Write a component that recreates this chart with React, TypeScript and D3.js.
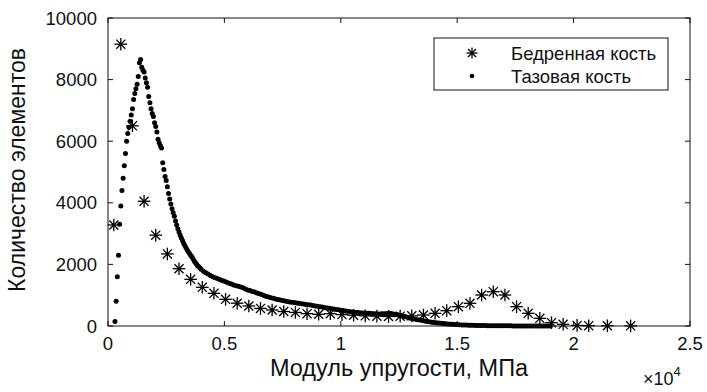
import React from "react";
import * as d3 from "d3";

// Femur (Бедренная кость): x in MPa, y = number of elements
const femurX = [250, 550, 1050, 1550, 2050, 2550, 3050, 3550, 4050, 4550, 5050, 5550, 6050, 6550, 7050, 7550, 8050, 8550, 9050, 9550, 10050, 10550, 11050, 11550, 12050, 12550, 13050, 13550, 14050, 14550, 15050, 15550, 16050, 16550, 17050, 17550, 18050, 18550, 19050, 19550, 20150, 20650, 21450, 22450];
const femurY = [3280, 9150, 6500, 4050, 2950, 2340, 1860, 1515, 1256, 1061, 866, 740, 650, 570, 520, 470, 440, 400, 380, 400, 370, 350, 330, 320, 310, 320, 330, 357, 412, 498, 627, 736, 1006, 1114, 1006, 627, 412, 250, 108, 55, 20, 10, 8, 5];

// Pelvis (Тазовая кость): first part bins 300..4000 step 50
const pelvisLowStart = 300;
const pelvisLowStep = 50;
const pelvisLowY = [
  150, 800, 1600, 2300, 3300, 3900, 4400, 4800, 5200, 5600,
  6000, 6250, 6450, 6650, 6850, 7050, 7350, 7550, 7700, 7850,
  8100, 8550, 8650, 8400, 8300, 8250, 8050, 7900, 7750, 7450,
  7250, 7050, 6900, 6800, 6600, 6480, 6300, 6060, 5950, 5850,
  5780, 5300, 5080, 4850, 4720, 4520, 4300, 4120, 3960, 3810,
  3680, 3560, 3410, 3280, 3160, 3050, 2950, 2860, 2780, 2690,
  2610, 2540, 2470, 2410, 2350, 2300, 2250, 2180, 2110, 2060,
  2010, 1960, 1920, 1880, 1840,
];
// second part bins 4100..19000 step 100
const pelvisHighStart = 4100;
const pelvisHighStep = 100;
const pelvisHighY = [
  1780, 1730, 1690, 1640, 1600, 1570, 1540, 1510, 1480, 1450,
  1420, 1390, 1360, 1330, 1310, 1290, 1270, 1240, 1200, 1170,
  1150, 1120, 1100, 1070, 1050, 1020, 990, 960, 940, 920,
  900, 880, 860, 845, 830, 810, 795, 780, 770, 760,
  750, 740, 725, 715, 700, 690, 680, 665, 650, 640,
  628, 615, 600, 585, 573, 560, 548, 535, 525, 515,
  500, 490, 478, 465, 455, 445, 438, 430, 425, 420,
  415, 410, 405, 400, 395, 392, 390, 395, 400, 405,
  410, 395, 380, 370, 357, 340, 320, 300, 270, 250,
  235, 220, 205, 195, 180, 165, 150, 140, 125, 115,
  105, 95, 87, 80, 72, 65, 60, 55, 50, 45,
  40, 36, 32, 30, 27, 24, 22, 20, 18, 16,
  15, 13, 12, 11, 10, 9, 8, 8, 7, 6,
  6, 5, 5, 4, 4, 3, 3, 3, 2, 2,
  2, 2, 1, 1, 1, 1, 1, 1, 1, 1,
];

const xTicks = [0, 5000, 10000, 15000, 20000, 25000];
const xTickLabels = ["0", "0.5", "1", "1.5", "2", "2.5"];
const yTicks = [0, 2000, 4000, 6000, 8000, 10000];
const seriesNames = ["Бедренная кость", "Тазовая кость"];
const xLabel = "Модуль упругости, МПа";
const yLabel = "Количество элементов";

const W = 707;
const H = 392;
const FONT = "'Liberation Sans', Arial, Helvetica, sans-serif";
const INK = "#111";

function Asterisk({ cx, cy, r = 6.3 }: { cx: number; cy: number; r?: number }) {
  const d = r * 0.72;
  return (
    <g stroke="#000" strokeWidth={1.3}>
      <line x1={cx - r} y1={cy} x2={cx + r} y2={cy} />
      <line x1={cx} y1={cy - r} x2={cx} y2={cy + r} />
      <line x1={cx - d} y1={cy - d} x2={cx + d} y2={cy + d} />
      <line x1={cx - d} y1={cy + d} x2={cx + d} y2={cy - d} />
      <circle cx={cx} cy={cy} r={1.5} fill="#000" stroke="none" />
    </g>
  );
}

export default function App() {
  const x = d3.scaleLinear().domain([0, 25000]).range([108, 690]);
  const y = d3.scaleLinear().domain([0, 10000]).range([326, 18]);
  const [x0, x1] = x.range();
  const [yb, yt] = y.range();

  const femur = femurX.map((v, i) => ({ x: v, y: femurY[i] }));
  const pelvis = [
    ...pelvisLowY.map((v, i) => ({ x: pelvisLowStart + i * pelvisLowStep, y: v })),
    ...pelvisHighY.map((v, i) => ({ x: pelvisHighStart + i * pelvisHighStep, y: v })),
  ];

  const tl = 5;

  return (
    <svg
      width={W}
      height={H}
      style={{ position: "absolute", left: 0, top: 0, background: "#fff" }}
      fontFamily={FONT}
    >
      <rect x={0} y={0} width={W} height={H} fill="#fff" />
      {/* data */}
      <g>
        {pelvis.map((p, i) => (
          <circle key={"p" + i} cx={x(p.x)} cy={y(p.y)} r={2.5} fill="#000" />
        ))}
      </g>
      <g>
        {femur.map((p, i) => (
          <Asterisk key={"f" + i} cx={x(p.x)} cy={y(p.y)} />
        ))}
      </g>

      {/* axes box */}
      <rect x={x0} y={yt} width={x1 - x0} height={yb - yt} fill="none" stroke={INK} strokeWidth={1} />
      {xTicks.map((t, i) => (
        <g key={"xt" + i}>
          <line x1={x(t)} x2={x(t)} y1={yb} y2={yb - tl} stroke={INK} />
          <line x1={x(t)} x2={x(t)} y1={yt} y2={yt + tl} stroke={INK} />
          <text x={x(t)} y={343} fontSize={18.5} textAnchor="middle" dominantBaseline="central" fill={INK}>
            {xTickLabels[i]}
          </text>
        </g>
      ))}
      {yTicks.map((t, i) => (
        <g key={"yt" + i}>
          <line x1={x0} x2={x0 + tl} y1={y(t)} y2={y(t)} stroke={INK} />
          <line x1={x1} x2={x1 - tl} y1={y(t)} y2={y(t)} stroke={INK} />
          <text x={97} y={y(t)} fontSize={18.5} textAnchor="end" dominantBaseline="central" fill={INK}>
            {d3.format("d")(t)}
          </text>
        </g>
      ))}

      {/* axis labels */}
      <text x={(x0 + x1) / 2} y={368} fontSize={23.5} textAnchor="middle" dominantBaseline="central" fill={INK}>
        {xLabel}
      </text>
      <text
        transform={`translate(17, ${(yt + yb) / 2 - 2}) rotate(-90)`}
        fontSize={23}
        textAnchor="middle"
        dominantBaseline="central"
        fill={INK}
      >
        {yLabel}
      </text>
      <text x={643} y={379} fontSize={18} dominantBaseline="central" fill={INK}>
        ×10
        <tspan fontSize={13} dy={-8}>4</tspan>
      </text>

      {/* legend */}
      <rect x={434} y={38} width={234} height={52} fill="#fff" stroke={INK} strokeWidth={1} />
      <Asterisk cx={472} cy={53} r={5.5} />
      <text x={511} y={53} fontSize={18.5} dominantBaseline="central" fill={INK}>
        {seriesNames[0]}
      </text>
      <circle cx={472} cy={76} r={2.3} fill="#000" />
      <text x={511} y={76} fontSize={18.5} dominantBaseline="central" fill={INK}>
        {seriesNames[1]}
      </text>
    </svg>
  );
}
